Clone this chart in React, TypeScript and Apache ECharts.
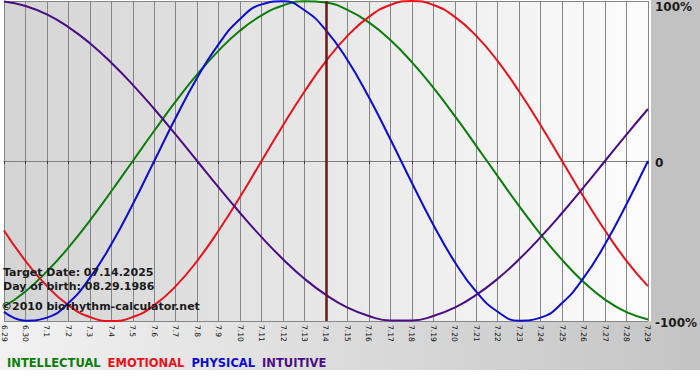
import React, { useEffect, useRef } from "react";
import * as echarts from "echarts";

const dates = [
  "6.29", "6.30", "7.1", "7.2", "7.3", "7.4", "7.5", "7.6", "7.7", "7.8", "7.9",
  "7.10", "7.11", "7.12", "7.13", "7.14", "7.15", "7.16", "7.17", "7.18", "7.19",
  "7.20", "7.21", "7.22", "7.23", "7.24", "7.25", "7.26", "7.27", "7.28", "7.29",
];

const intellectual = [
  -91.0, -81.5, -69.0, -54.1, -37.2, -18.9, 0, 18.9, 37.2, 54.1, 69.0,
  81.5, 91.0, 97.2, 99.9, 99.0, 94.5, 86.6, 75.6, 61.8, 45.8,
  28.2, 9.5, -9.5, -28.2, -45.8, -61.8, -75.6, -86.6, -94.5, -99.0,
];

const emotional = [
  -43.4, -62.4, -78.2, -90.1, -97.5, -100, -97.5, -90.1, -78.2, -62.4, -43.4,
  -22.3, 0, 22.3, 43.4, 62.4, 78.2, 90.1, 97.5, 100, 97.5,
  90.1, 78.2, 62.4, 43.4, 22.3, 0, -22.3, -43.4, -62.4, -78.2,
];

const physical = [
  -94.2, -99.8, -97.9, -88.8, -73.1, -52.0, -27.0, 0, 27.0, 52.0, 73.1,
  88.8, 97.9, 99.8, 94.2, 81.7, 63.1, 39.8, 13.6, -13.6, -39.8,
  -63.1, -81.7, -94.2, -99.8, -97.9, -88.8, -73.1, -52.0, -27.0, 0,
];

const intuitive = [
  99.7, 96.9, 91.6, 83.7, 73.6, 61.4, 47.6, 32.5, 16.5, 0, -16.5,
  -32.5, -47.6, -61.4, -73.6, -83.7, -91.6, -96.9, -99.7, -99.7, -96.9,
  -91.6, -83.7, -73.6, -61.4, -47.6, -32.5, -16.5, 0, 16.5, 32.5,
];

const seriesNames = ["INTELLECTUAL", "EMOTIONAL", "PHYSICAL", "INTUITIVE"];
const seriesColors = ["#0b7d0b", "#e8121c", "#0c0cd0", "#4b0c85"];
const targetDate = "7.14";
const infoLines = [
  "Target Date: 07.14.2025",
  "Day of birth: 08.29.1986",
  "\u00a92010 biorhythm-calculator.net",
];

const FONT = "DejaVu Sans, Verdana, sans-serif";

export default function App() {
  const ref = useRef<HTMLDivElement>(null);

  useEffect(() => {
    document.body.style.margin = "0";
    if (!ref.current) return;
    const chart = echarts.init(ref.current, undefined, { renderer: "svg" });
    const values = [intellectual, emotional, physical, intuitive];

    const option: any = {
      animation: false,
      backgroundColor: "#ffffff",
      textStyle: { fontFamily: FONT },
      grid: {
        left: 0,
        right: 49,
        top: 1,
        bottom: 59,
        show: true,
        borderWidth: 0,
        backgroundColor: new echarts.graphic.LinearGradient(0, 0, 1, 0, [
          { offset: 0, color: "#d4d4d4" },
          { offset: 1, color: "#fcfcfc" },
        ]),
      },
      legend: {
        left: -3,
        top: 352,
        icon: "none",
        itemWidth: 0,
        itemHeight: 10,
        itemGap: 2,
        selectedMode: false,
        textStyle: { fontFamily: FONT, fontWeight: "bold", fontSize: 11.5 },
        data: seriesNames.map((n, i) => ({
          name: n,
          textStyle: { color: seriesColors[i], fontWeight: "bold", fontSize: 11.5 },
        })),
      },
      xAxis: {
        type: "category",
        boundaryGap: false,
        data: dates,
        axisLine: { show: true, lineStyle: { color: "#808080", width: 1 } },
        axisTick: { show: true, length: 3, lineStyle: { color: "#404040" } },
        axisLabel: {
          rotate: -90,
          interval: 0,
          fontSize: 7.5,
          color: "#111111",
          margin: 4,
          fontFamily: FONT,
        },
        splitLine: { show: true, interval: 0, lineStyle: { color: "#858585", width: 1 } },
      },
      yAxis: {
        type: "value",
        position: "right",
        min: -100,
        max: 100,
        interval: 100,
        axisLine: { show: false },
        axisTick: { show: false },
        splitLine: { show: true, lineStyle: { color: "#858585", width: 1 } },
        axisLabel: {
          margin: 7,
          fontSize: 12,
          fontWeight: "bold",
          color: "#1a1a1a",
          fontFamily: FONT,
          formatter: (v: number) =>
            v === 100 ? "{top|100%}" : v === 0 ? "{mid|0}" : "{mid|-100%}",
          rich: {
            top: {
              fontSize: 12,
              fontWeight: "bold",
              color: "#1a1a1a",
              fontFamily: FONT,
              padding: [12, 0, 0, 0],
            },
            mid: {
              fontSize: 12,
              fontWeight: "bold",
              color: "#1a1a1a",
              fontFamily: FONT,
              padding: [3, 0, 0, 0],
            },
          },
        },
      },
      series: seriesNames.map((n, i) => ({
        name: n,
        type: "line",
        data: values[i],
        smooth: true,
        showSymbol: false,
        symbol: "none",
        color: seriesColors[i],
        lineStyle: { color: seriesColors[i], width: 2 },
        z: 3,
        ...(i === 0
          ? {
              markLine: {
                silent: true,
                symbol: ["none", "none"],
                label: { show: false },
                lineStyle: { color: "#6e1616", width: 2.5, type: "solid" },
                data: [{ xAxis: targetDate }],
              },
            }
          : {}),
      })),
      graphic: [
        {
          type: "rect",
          z: -10,
          shape: { x: 651, y: 0, width: 49, height: 321 },
          style: { fill: "#c2c2c2" },
          silent: true,
        },
        {
          type: "rect",
          z: -10,
          shape: { x: 0, y: 321, width: 700, height: 49 },
          style: {
            fill: new echarts.graphic.LinearGradient(0, 0, 1, 0, [
              { offset: 0, color: "#f2f2f2" },
              { offset: 1, color: "#c4c4c4" },
            ]),
          },
          silent: true,
        },
        ...infoLines.map((t, i) => ({
          type: "text",
          z: 100,
          x: i === 2 ? 1 : 3,
          y: [272, 286, 306][i],
          silent: true,
          style: {
            text: t,
            fill: "#1a1a1a",
            font: `bold 11px ${FONT}`,
            verticalAlign: "middle",
            textVerticalAlign: "middle",
          },
        })),
      ],
    };

    chart.setOption(option);
    return () => chart.dispose();
  }, []);

  return <div ref={ref} style={{ width: 700, height: 380 }} />;
}
